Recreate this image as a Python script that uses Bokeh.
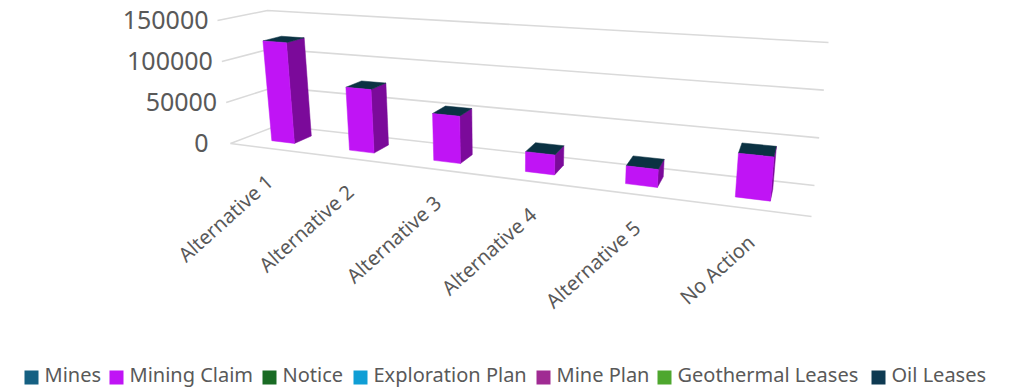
from bokeh.plotting import figure
from bokeh.models import Range1d
from bokeh.core.properties import value
from bokeh.embed import file_html
from bokeh.resources import INLINE

categories = ["Alternative 1", "Alternative 2", "Alternative 3", "Alternative 4", "Alternative 5", "No Action"]
mining_claim = [123000, 75000, 54000, 22000, 19000, 45000]
y_ticks = [0, 50000, 100000, 150000]
y_max = 150000
series_names = ["Mines", "Mining Claim", "Notice", "Exploration Plan", "Mine Plan", "Geothermal Leases", "Oil Leases"]
series_colors = ["#156082", "#C014F5", "#196B24", "#0F9ED5", "#A02B93", "#4EA72E", "#0E3A52"]

# layout of the perspective box, in page pixels
LEG_SWATCH_X = [24, 109, 262, 353, 536, 657, 871]
LEG_TEXT_X = [44, 129, 282, 373, 556, 677, 891]
LEG_Y = 377
CORNERS = {
    (0, 0, 0): (230, 143), (0, 1, 0): (217, 20), (0, 0, 1): (277, 125), (0, 1, 1): (267, 10),
    (1, 0, 0): (811, 216), (1, 1, 0): (825, 63), (1, 0, 1): (814, 185), (1, 1, 1): (828, 42),
}
K = 0.77
BAR_W = 0.30
D0, D1 = 0.33, 0.72
FONT = "Noto Sans"
TXT = "#595959"


def proj(u, v, w):
    wt = 1 + (K - 1) * u
    sx = sy = 0.0
    for (a, b, c), (cx, cy) in CORNERS.items():
        f = (u if a else 1 - u) * (v if b else 1 - v) * (w if c else 1 - w)
        f *= 1 if a == 0 else K
        sx += f * cx
        sy += f * cy
    return sx / wt, sy / wt


def poly(*pts):
    xy = [proj(*q) for q in pts]
    return [q[0] for q in xy], [q[1] for q in xy]


p = figure(width=1015, height=388, output_backend="svg", toolbar_location=None,
           x_range=Range1d(0, 1015), y_range=Range1d(388, 0), min_border=0,
           outline_line_color=None)
p.axis.visible = False
p.grid.visible = False

# gridlines: side wall + back wall per tick, plus front floor edge
for t in y_ticks:
    v = t / y_max
    xs, ys = poly((0, v, 0), (0, v, 1), (1, v, 1))
    p.line(xs, ys, line_color="#DADADA", line_width=1.6)
xs, ys = poly((0, 0, 0), (1, 0, 0))
p.line(xs, ys, line_color="#DADADA", line_width=1.6)

# tick labels
for t in y_ticks:
    x, y = proj(0, t / y_max, 0)
    p.text([x - 9 if t else x - 22], [y - 1], text=[str(t)], text_align="right", text_baseline="middle",
           text_font=value(FONT), text_font_size="25px", text_color=TXT)

# bars
for i, val in enumerate(mining_claim):
    u0 = (i + 0.5 - BAR_W / 2) / 6
    u1 = (i + 0.5 + BAR_W / 2) / 6
    v = val / y_max
    fx, fy = poly((u0, 0, D0), (u1, 0, D0), (u1, v, D0), (u0, v, D0))
    sx, sy = poly((u1, 0, D0), (u1, 0, D1), (u1, v, D1), (u1, v, D0))
    tx, ty = poly((u0, v, D0), (u1, v, D0), (u1, v, D1), (u0, v, D1))
    p.patch(sx, sy, fill_color="#7B0A9A", line_color="#7B0A9A", line_width=0.5)
    p.patch(tx, ty, fill_color="#0B3243", line_color="#0B3243", line_width=0.5)
    p.patch(fx, fy, fill_color="#C014F5", line_color="#C014F5", line_width=0.5)
    lx, ly = proj((i + 0.5) / 6, 0, 0)
    p.text([lx + 1], [ly + 30], text=[categories[i]], angle=42, angle_units="deg",
           text_align="right", text_baseline="middle", text_font=value(FONT),
           text_font_size="20px", text_color=TXT)

# legend
for sx0, tx0, name, col in zip(LEG_SWATCH_X, LEG_TEXT_X, series_names, series_colors):
    p.rect([sx0 + 7], [LEG_Y], width=14, height=14, fill_color=col, line_color=None)
    p.text([tx0], [LEG_Y - 3], text=[name], text_align="left", text_baseline="middle",
           text_font=value(FONT), text_font_size="20px", text_color=TXT)

open("out.html", "w").write(file_html(p, INLINE))
